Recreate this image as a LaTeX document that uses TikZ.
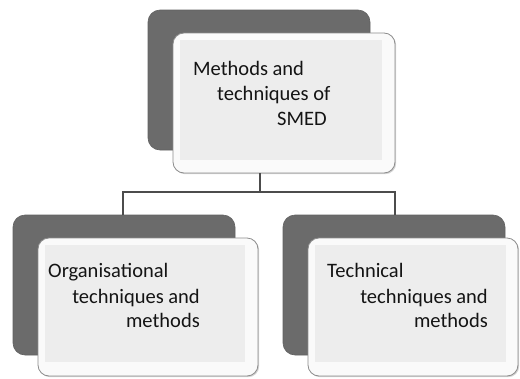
\documentclass[tikz,border=0pt]{standalone}
\usepackage{fontspec}
\setmainfont{Carlito}
\usetikzlibrary{shadows}
\begin{document}
\begin{tikzpicture}[x=1pt,y=-1pt,
  darkbox/.style={rounded corners=12pt, fill=black!58, draw=black!62, line width=0.6pt},
  lightbox/.style={rounded corners=11pt, fill=black!2, draw=black!45, line width=0.8pt,
     drop shadow={shadow xshift=1.2pt, shadow yshift=-1.2pt, opacity=0.35}},
  innerbox/.style={fill=black!7, draw=none},
  lbl/.style={font=\fontsize{20.5}{24}\selectfont, text=black!92, inner sep=0pt, anchor=base west},
  lblr/.style={font=\fontsize{20.5}{24}\selectfont, text=black!92, inner sep=0pt, anchor=base east},
  conn/.style={draw=black!70, line width=1.8pt}]
\useasboundingbox (0,0) rectangle (520,378);
% top
\path[darkbox] (148,10) rectangle (370,150);
\path[lightbox] (173,33) rectangle (395,173);
\path[innerbox] (180,40) rectangle (382,160);
\node[lbl] (t1) at (193,75) {Methods and};
\node[lbl] (t2) at (217,100) {techniques of};
\node[lbl] (t3) at (277,125) {SMED};
% left
\path[darkbox] (13,215) rectangle (235,355);
\path[lightbox] (38,238) rectangle (258,376);
\path[innerbox] (45,245) rectangle (245,362);
\node[lbl] (l1) at (48,277) {Organisational};
\node[lblr] (l2) at (200,303) {techniques and};
\node[lblr] (l3) at (200,327) {methods};
% right
\path[darkbox] (283,215) rectangle (505,355);
\path[lightbox] (308,238) rectangle (518,376);
\path[innerbox] (315,245) rectangle (506,362);
\node[lbl] (r1) at (327,277) {Technical};
\node[lblr] (r2) at (488,303) {techniques and};
\node[lblr] (r3) at (488,327) {methods};
% connectors
\coordinate (ts) at (260,173);
\coordinate (jn) at (260,192);
\coordinate (jl) at (123,192);
\coordinate (jr) at (395,192);
\coordinate (le) at (123,215);
\coordinate (re) at (395,215);
\draw[conn] (ts) -- (jn);
\draw[conn] (le) -- (jl) -- (jr) -- (re);
\end{tikzpicture}
\end{document}
